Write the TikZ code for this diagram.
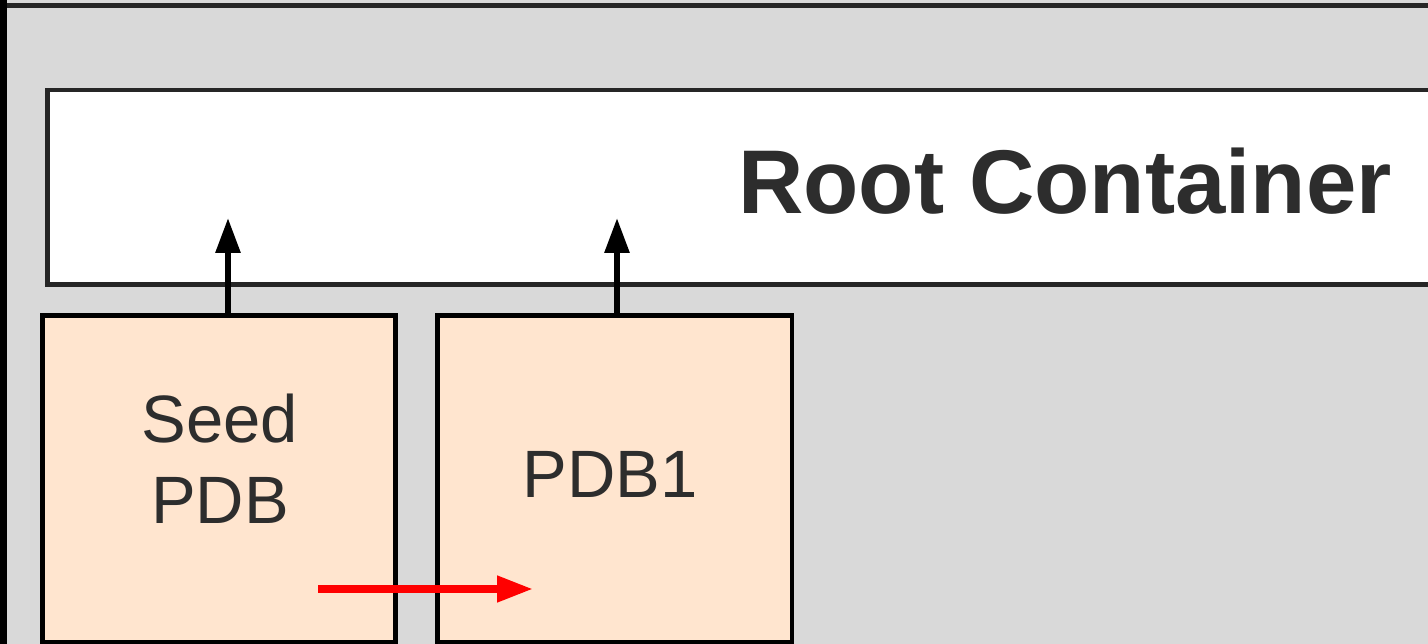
\documentclass[tikz,border=0pt]{standalone}
\usepackage{fontspec}
\setmainfont{Liberation Sans}
\usetikzlibrary{arrows.meta}
\definecolor{bggray}{HTML}{D9D9D9}
\definecolor{peach}{HTML}{FFE5CF}
\definecolor{txt}{HTML}{2D2D2D}
\definecolor{edge}{HTML}{262626}
\tikzset{
  pdbbox/.style={draw=black, line width=4.5pt, fill=peach, inner sep=0pt, minimum width=353pt, minimum height=326.5pt},
  rootbox/.style={draw=edge, line width=4.5pt, fill=white, inner sep=0pt, minimum width=1392.5pt, minimum height=194.5pt},
  boxtext/.style={text=txt, font=\fontsize{67}{81}\selectfont, align=center, inner sep=0pt},
  roottext/.style={text=txt, font=\fontsize{90.5}{100}\selectfont\bfseries, inner sep=0pt},
  uparrow/.style={draw=black, line width=6pt, -{Triangle[length=35pt,width=24pt]}},
  redarrow/.style={draw=red, line width=7.5pt, -{Triangle[length=36pt,width=25pt]}}
}
\begin{document}
\begin{tikzpicture}[x=1pt,y=-1pt]
\clip (0,0) rectangle (1428,644);
\useasboundingbox (0,0) rectangle (1428,644);
% outer container
\fill[bggray] (0,0) rectangle (1428,644);
\draw[edge, line width=5pt] (0,5.5) -- (1428,5.5);
\draw[black, line width=8pt] (3,0) -- (3,644);
% root container
\node[rootbox] (root) at (743.75,187.25) {};
\node[roottext, anchor=base] (roottxt) at (1065,214) {Root Container};
% PDB boxes
\node[pdbbox] (seed) at (219,478.75) {};
\node[pdbbox, minimum width=354.5pt] (pdb1) at (614.75,478.75) {};
\node[boxtext, anchor=base] (seedtxt) at (220,523) {Seed\\PDB};
\node[boxtext, anchor=base] (pdb1txt) at (610,497) {PDB1};
% arrows
\coordinate (t1) at (228,218);
\coordinate (t2) at (617,218);
\draw[uparrow] ([xshift=9pt]seed.north) -- (t1);
\draw[uparrow] ([xshift=2.25pt]pdb1.north) -- (t2);
\coordinate (r1) at (318,589);
\coordinate (r2) at (533,589);
\draw[redarrow] (r1) -- (r2);
\end{tikzpicture}
\end{document}
